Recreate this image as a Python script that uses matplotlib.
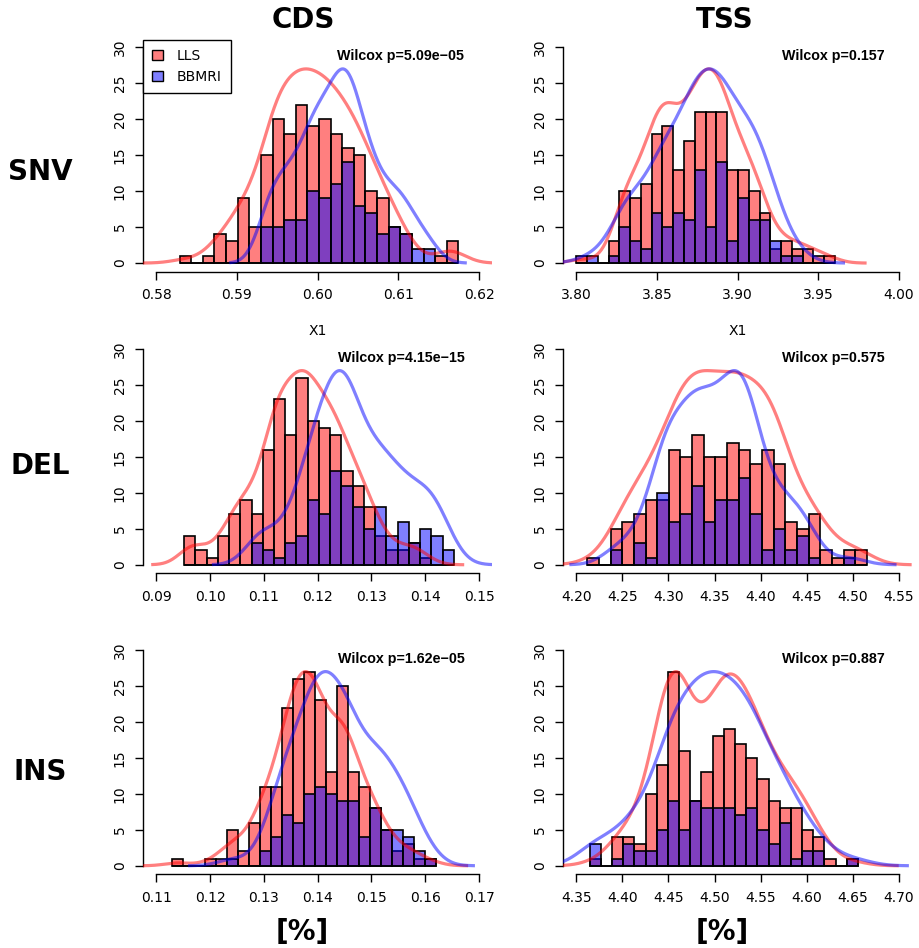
import numpy as np
import matplotlib
matplotlib.use("Agg")
import matplotlib.pyplot as plt
from matplotlib.patches import Patch

# ---------------- data ----------------
col_labels = ["CDS", "TSS"]
row_labels = ["SNV", "DEL", "INS"]
group_labels = ["LLS", "BBMRI"]

# histogram break ranges (24 equal bins each)
snv_cds_range = (0.58289, 0.61744)
snv_tss_range = (3.8000, 3.9603)
del_cds_range = (0.09519, 0.14529)
del_tss_range = (4.2119, 4.5153)
ins_cds_range = (0.11291, 0.16201)
ins_tss_range = (4.3645, 4.6555)

snv_cds_lls = [1, 0, 1, 4, 3, 9, 5, 15, 20, 18, 22, 19, 20, 18, 16, 15, 10, 9, 5, 4, 0, 0, 1, 3]
snv_cds_bbmri = [0, 0, 0, 0, 0, 0, 0, 5, 5, 6, 6, 10, 9, 11, 14, 8, 7, 4, 5, 4, 2, 2, 0, 0]
snv_tss_lls = [1, 0, 0, 3, 10, 9, 11, 18, 19, 13, 17, 21, 21, 21, 13, 13, 10, 7, 2, 3, 2, 2, 1, 1]
snv_tss_bbmri = [0, 1, 0, 1, 5, 3, 2, 7, 5, 7, 6, 13, 5, 14, 3, 9, 6, 6, 3, 1, 1, 0, 0, 0]
del_cds_lls = [4, 2, 1, 4, 7, 9, 7, 16, 23, 18, 26, 20, 19, 18, 13, 11, 8, 4, 2, 2, 3, 1, 0, 0]
del_cds_bbmri = [0, 0, 0, 0, 0, 0, 3, 2, 1, 3, 4, 9, 7, 13, 11, 8, 5, 8, 4, 6, 3, 5, 4, 2]
del_tss_lls = [1, 0, 5, 6, 7, 9, 9, 16, 15, 18, 15, 15, 17, 16, 14, 16, 14, 6, 5, 7, 2, 1, 2, 2]
del_tss_bbmri = [0, 0, 2, 0, 3, 1, 10, 6, 7, 11, 6, 9, 9, 12, 7, 2, 5, 2, 4, 1, 0, 0, 1, 0]
ins_cds_lls = [1, 0, 0, 1, 1, 5, 2, 6, 11, 11, 22, 26, 27, 23, 13, 25, 13, 11, 8, 5, 2, 3, 1, 1]
ins_cds_bbmri = [0, 0, 0, 0, 0, 1, 0, 0, 2, 4, 7, 6, 10, 11, 10, 9, 9, 4, 8, 5, 5, 4, 2, 1]
ins_tss_lls = [1, 0, 4, 4, 3, 10, 14, 27, 16, 9, 13, 18, 19, 17, 15, 12, 9, 8, 8, 5, 4, 1, 0, 1]
ins_tss_bbmri = [3, 0, 1, 3, 2, 2, 5, 9, 5, 9, 8, 8, 8, 7, 8, 5, 3, 6, 1, 2, 2, 0, 0, 1]

p_values = [["5.09e\u221205", "0.157"],
            ["4.15e\u221215", "0.575"],
            ["1.62e\u221205", "0.887"]]

xlims = [[(0.58, 0.62), (3.80, 4.00)],
         [(0.09, 0.15), (4.20, 4.55)],
         [(0.11, 0.17), (4.35, 4.70)]]
xtick_step = [[0.01, 0.05], [0.01, 0.05], [0.01, 0.05]]
yticks = [0, 5, 10, 15, 20, 25, 30]
curve_peak = 27

panels = [
    [(snv_cds_range, snv_cds_lls, snv_cds_bbmri), (snv_tss_range, snv_tss_lls, snv_tss_bbmri)],
    [(del_cds_range, del_cds_lls, del_cds_bbmri), (del_tss_range, del_tss_lls, del_tss_bbmri)],
    [(ins_cds_range, ins_cds_lls, ins_cds_bbmri), (ins_tss_range, ins_tss_lls, ins_tss_bbmri)],
]

# ---------------- style ----------------
RED_FILL = (1, 0, 0, 0.5)
BLUE_FILL = (0, 0, 1, 0.5)
RED_LINE = (1, 0, 0, 0.5)
BLUE_LINE = (0, 0, 1, 0.5)

plt.rcParams["font.family"] = ["DejaVu Sans"]

W, H = 919, 948
fig = plt.figure(figsize=(W / 100, H / 100), dpi=100)


def px_rect(left, top, width, height):
    return [left / W, 1 - (top + height) / H, width / W, height / H]


def kde(centers, counts):
    x = np.repeat(centers, counts)
    n = len(x)
    sd = x.std(ddof=1)
    q75, q25 = np.percentile(x, [75, 25])
    bw = 0.9 * min(sd, (q75 - q25) / 1.34) * n ** -0.2
    grid = np.linspace(x.min() - 3 * bw, x.max() + 3 * bw, 512)
    dens = np.exp(-0.5 * ((grid[:, None] - x[None, :]) / bw) ** 2).sum(axis=1)
    return grid, dens / dens.max() * curve_peak


col_left = [143.3, 563.3]
row_top = [38.7, 340.4, 641.4]
ax_w, ax_h = 348.7, 233.0

for r in range(3):
    for c in range(2):
        ax = fig.add_axes(px_rect(col_left[c], row_top[r], ax_w, ax_h))
        (lo, hi), lls, bbm = panels[r][c]
        nb = len(lls)
        edges = np.linspace(lo, hi, nb + 1)
        width = edges[1] - edges[0]
        centers = edges[:-1] + width / 2
        ax.bar(edges[:-1], lls, width=width, align="edge", color=RED_FILL,
               edgecolor="black", linewidth=1.2, zorder=2)
        ax.bar(edges[:-1], bbm, width=width, align="edge", color=BLUE_FILL,
               edgecolor="black", linewidth=1.2, zorder=3)
        gx, gy = kde(centers, lls)
        ax.plot(gx, gy, color=RED_LINE, lw=2.3, zorder=4, solid_capstyle="butt")
        gx, gy = kde(centers, bbm)
        ax.plot(gx, gy, color=BLUE_LINE, lw=2.3, zorder=5, solid_capstyle="butt")

        x0, x1 = xlims[r][c]
        ext = 0.04 * (x1 - x0)
        ax.set_xlim(x0 - ext, x1 + ext)
        ax.set_ylim(-1.2, 31.2)
        step = xtick_step[r][c]
        ticks = np.arange(x0, x1 + step / 2, step)
        ax.set_xticks(ticks)
        ax.set_xticklabels([f"{t:.2f}" for t in ticks])
        ax.set_yticks(yticks)
        ax.set_yticklabels([str(t) for t in yticks], rotation=90, va="center")
        for s in ["top", "right"]:
            ax.spines[s].set_visible(False)
        ax.spines["left"].set_bounds(0, 30)
        ax.spines["bottom"].set_bounds(x0, x1)
        for s in ["left", "bottom"]:
            ax.spines[s].set_linewidth(1.0)
        ax.tick_params(axis="both", direction="out", length=5.8, width=1.0,
                       labelsize=10, pad=6)
        ax.patch.set_alpha(0)

        ax.text(0.921, 0.925, f"Wilcox p={p_values[r][c]}", transform=ax.transAxes,
                ha="right", va="center", fontsize=10.3, fontweight="bold",
                family=["Liberation Sans", "DejaVu Sans"])

        if r == 0 and c == 0:
            handles = [Patch(facecolor=RED_FILL, edgecolor="black", linewidth=1.0),
                       Patch(facecolor=BLUE_FILL, edgecolor="black", linewidth=1.0)]
            leg = ax.legend(handles, group_labels, loc="upper left",
                            bbox_to_anchor=(0, 0.995), borderaxespad=0,
                            fancybox=False, framealpha=1, edgecolor="black",
                            fontsize=10, handlelength=0.75, handleheight=0.75,
                            handletextpad=1.0, borderpad=0.65, labelspacing=0.5)
            leg.get_frame().set_linewidth(1.0)

# titles and labels
def ftext(x, y, s, **kw):
    fig.text(x / W, 1 - y / H, s, ha="center", va="center", **kw)

for c, lab in enumerate(col_labels):
    ftext([303, 725][c], 20, lab, fontsize=20, fontweight="bold")
for r, lab in enumerate(row_labels):
    ftext(40, [172, 466, 772][r], lab, fontsize=20, fontweight="bold")
for c in range(2):
    ftext([302, 722][c], 932, "[%]", fontsize=20, fontweight="bold")
    ftext([318, 738][c], 331, "X1", fontsize=10)

fig.savefig("out.png", dpi=100)
